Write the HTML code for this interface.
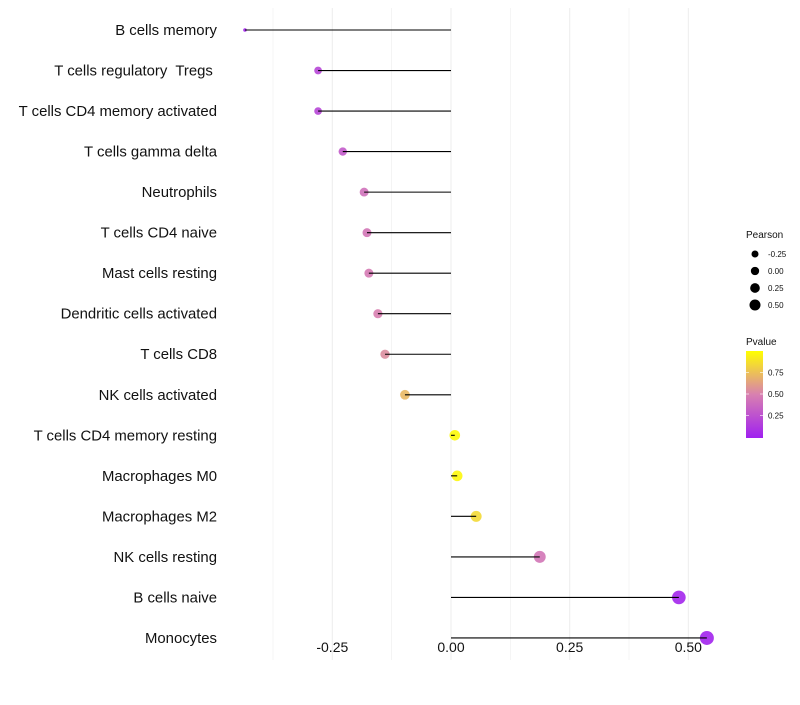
<!DOCTYPE html>
<html><head><meta charset="utf-8"><style>
body{margin:0;background:#fff;font-family:"Liberation Sans",sans-serif}
</style></head><body>
<svg id="c" width="800" height="700" xmlns="http://www.w3.org/2000/svg"></svg>
<script>
const categories=["B cells memory","T cells regulatory  Tregs ","T cells CD4 memory activated","T cells gamma delta","Neutrophils","T cells CD4 naive","Mast cells resting","Dendritic cells activated","T cells CD8","NK cells activated","T cells CD4 memory resting","Macrophages M0","Macrophages M2","NK cells resting","B cells naive","Monocytes"];
const pearson=[-0.434,-0.280,-0.280,-0.228,-0.183,-0.177,-0.173,-0.154,-0.139,-0.097,0.008,0.013,0.053,0.187,0.480,0.539];
const pvalue=[0.02,0.2,0.2,0.3,0.42,0.45,0.47,0.5,0.55,0.72,0.98,0.97,0.85,0.45,0.03,0.02];
const xTicks=[-0.25,0,0.25,0.5];
const xTickLabels=["-0.25","0.00","0.25","0.50"];
const sizeLegend=[-0.25,0,0.25,0.5];
const sizeLegendLabels=["-0.25","0.00","0.25","0.50"];
const colorTicks=[0.25,0.5,0.75];
const colorTickLabels=["0.25","0.50","0.75"];

const NS="http://www.w3.org/2000/svg",svg=document.getElementById('c');
function X(v){return 451+v*474.7;}
function Y(i){return 30+i*40.53;}
const pmin=Math.min(...pearson),pmax=Math.max(...pearson);
function R(v){return 1.8+5.2*Math.sqrt(Math.max(0,(v-pmin)/(pmax-pmin)));}
function LR(v){return 3.5+(v+0.25)/0.75*2;}
function hex(h){return [1,3,5].map(i=>parseInt(h.substr(i,2),16));}
const stops=[hex("#A020F0"),hex("#D880B0"),hex("#FFFF00")];
function C(p){p=Math.max(0,Math.min(1,p));let s=p<0.5?0:1,t=p<0.5?p/0.5:(p-0.5)/0.5;
 const a=stops[s],b=stops[s+1];return "rgb("+a.map((v,i)=>Math.round(v+(b[i]-v)*t)).join(",")+")";}
function el(t,a,parent){const e=document.createElementNS(NS,t);for(const k in a)e.setAttribute(k,a[k]);(parent||svg).appendChild(e);return e;}

// grid
for(let k=-3;k<=4;k++){
 const v=k*0.125;
 const g=el('line',{x1:X(v),x2:X(v),y1:8,y2:660,stroke:'#eeeeee','stroke-width':k%2===0?1.1:0.6});
 
 
}
xTicks.forEach((v,i)=>{
 const t=el('text',{x:X(v),y:652,'text-anchor':'middle','font-size':14,fill:'#111'});t.textContent=xTickLabels[i];
 
 
});
categories.forEach((c,i)=>{
 const t=el('text',{x:217,y:Y(i)+5,'text-anchor':'end','font-size':14.9,fill:'#111',style:'white-space:pre'});t.textContent=c;
 
 
 const p=el('circle',{cx:X(pearson[i]),cy:Y(i),r:R(pearson[i]),fill:C(pvalue[i]),'fill-opacity':0.9});
 
 
 const l=el('line',{x1:X(0),x2:X(pearson[i]),y1:Y(i),y2:Y(i),stroke:'#000','stroke-width':1.1});
 
 
});
// size legend
let t=el('text',{x:746,y:238,'font-size':10,fill:'#111'});t.textContent="Pearson";


sizeLegend.forEach((v,i)=>{
 const y=254+i*17;
 const c=el('circle',{cx:755,cy:y,r:LR(v),fill:'#000'});
 
 
 const tt=el('text',{x:768,y:y+3,'font-size':8,fill:'#111'});tt.textContent=sizeLegendLabels[i];
 
 
});
// color legend
t=el('text',{x:746,y:345,'font-size':10,fill:'#111'});t.textContent="Pvalue";


const defs=el('defs',{});const lg=el('linearGradient',{id:'g',x1:0,y1:1,x2:0,y2:0},defs);
[0,0.5,1].forEach(o=>el('stop',{offset:o,'stop-color':C(o)},lg));
const bar=el('rect',{x:746,y:351,width:17,height:87,fill:'url(#g)'});


colorTicks.forEach((v,i)=>{
 const y=437-v*86;
 el('line',{x1:746,x2:749,y1:y,y2:y,stroke:'#fff','stroke-opacity':0.6});
 el('line',{x1:760,x2:763,y1:y,y2:y,stroke:'#fff','stroke-opacity':0.6});
 const tt=el('text',{x:768,y:y+3,'font-size':8,fill:'#111'});tt.textContent=colorTickLabels[i];
 
 
});
</script>
</body></html>
